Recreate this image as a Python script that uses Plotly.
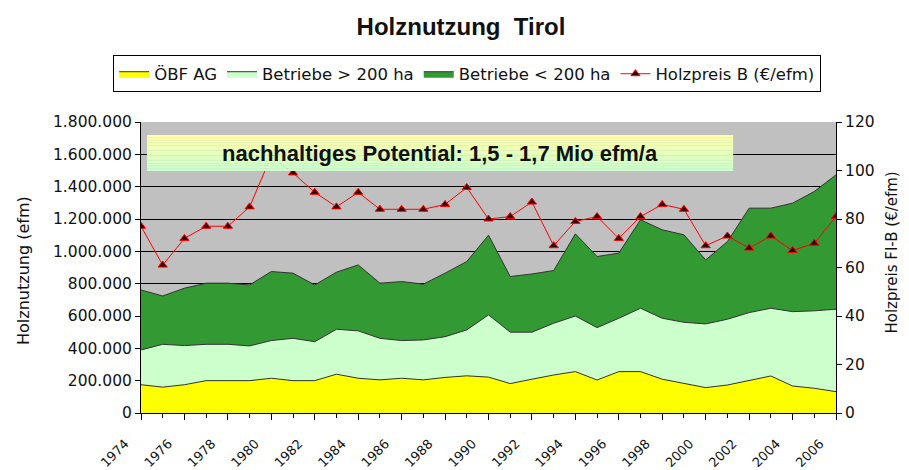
import plotly.graph_objects as go

years = list(range(1974, 2007))
oebf = [175000, 160000, 175000, 200000, 200000, 200000, 215000, 200000, 200000, 240000,
        215000, 205000, 215000, 205000, 220000, 230000, 222000, 182000, 209000, 235000,
        256000, 204000, 256000, 256000, 209000, 184000, 157000, 173000, 200000, 229000,
        167000, 153000, 132000]
gross = [215000, 265000, 242000, 225000, 225000, 215000, 233000, 262000, 241000, 278000,
         293000, 257000, 233000, 247000, 252000, 284000, 385000, 318000, 291000, 320000,
         344000, 324000, 330000, 392000, 377000, 377000, 394000, 407000, 421000, 419000,
         460000, 479000, 510000]
klein = [371000, 299000, 355000, 378000, 378000, 377000, 427000, 403000, 351000, 353000,
         408000, 341000, 365000, 345000, 393000, 423000, 493000, 344000, 360000, 326000,
         508000, 440000, 403000, 547000, 547000, 541000, 396000, 480000, 646000, 619000,
         671000, 738000, 831000]
preis = [77, 61, 72, 77, 77, 85, 106, 99, 91, 85, 91, 84, 84, 84, 86, 93, 80, 81, 87, 69,
         79, 81, 72, 81, 86, 84, 69, 73, 68, 73, 67, 70, 81]
tick_years = list(range(1974, 2007, 2))
series_names = ["ÖBF AG", "Betriebe > 200 ha", "Betriebe < 200 ha", "Holzpreis B (€/efm)"]

ARIAL = "Liberation Sans, Arial, sans-serif"
WIDE = "DejaVu Sans, Verdana, sans-serif"

# the page body has an 8px margin, so the figure is sized to fit the 909x470 window
W, H = 901, 462

fig = go.Figure()
fig.add_trace(go.Scatter(x=years, y=oebf, name=series_names[0], stackgroup="a",
                         mode="lines", line=dict(color="#333333", width=1),
                         fillcolor="#ffff00"))
fig.add_trace(go.Scatter(x=years, y=gross, name=series_names[1], stackgroup="a",
                         mode="lines", line=dict(color="#333333", width=1),
                         fillcolor="#ccffcc"))
fig.add_trace(go.Scatter(x=years, y=klein, name=series_names[2], stackgroup="a",
                         mode="lines", line=dict(color="#333333", width=1),
                         fillcolor="#339933"))
fig.add_trace(go.Scatter(x=years, y=preis, name=series_names[3], yaxis="y2",
                         mode="lines+markers", line=dict(color="#ff0000", width=1),
                         marker=dict(symbol="triangle-up", size=8, color="#300000",
                                     line=dict(color="#ff0000", width=1))))

# gradient text box (pale yellow -> pale green)
x0, x1, y0, y1 = 0.0086, 0.852, 0.832, 0.955
n = 14
top = (255, 255, 168)
bot = (204, 255, 204)
shapes = []
for i in range(n):
    t = i / (n - 1)
    c = tuple(int(round(top[k] + (bot[k] - top[k]) * t)) for k in range(3))
    ya = y1 - (y1 - y0) * i / n
    yb = y1 - (y1 - y0) * (i + 1) / n
    shapes.append(dict(type="rect", xref="paper", yref="paper", x0=x0, x1=x1, y0=yb, y1=ya,
                       fillcolor="rgb(%d,%d,%d)" % c, line=dict(width=0), layer="above"))

fig.update_layout(
    width=W, height=H,
    margin=dict(l=133, r=73, t=114, b=57, autoexpand=False),
    paper_bgcolor="white", plot_bgcolor="#c0c0c0",
    separators=",.",
    font=dict(family=WIDE, size=15, color="#111111"),
    title=dict(text="<b>Holznutzung  Tirol</b>", x=453 / W, xanchor="center",
               y=1 - 19 / H, yanchor="middle",
               font=dict(family=ARIAL, size=24, color="#111111")),
    showlegend=True,
    legend=dict(orientation="h", xref="paper", x=-0.040, xanchor="left",
                yref="paper", y=1.165, yanchor="middle",
                bordercolor="#000000", borderwidth=1, bgcolor="white",
                font=dict(family=WIDE, size=16.5), traceorder="normal", itemwidth=30),
    xaxis=dict(range=[1974, 2006], tickvals=tick_years, ticktext=[str(y) for y in tick_years],
               tickangle=-45, ticks="outside", ticklen=6, tickcolor="#000000",
               ticklabelstandoff=11, ticklabelshift=-16,
               showline=True, linecolor="#000000", linewidth=1, showgrid=False,
               zeroline=False, automargin=False, tickfont=dict(family=WIDE, size=13),
               minor=dict(tickvals=years, ticks="outside", ticklen=4, tickcolor="#000000",
                          showgrid=False)),
    yaxis=dict(range=[0, 1800000], dtick=200000, tickformat=",d", ticks="outside",
               ticklen=5, tickcolor="#000000", showline=True, linecolor="#000000",
               showgrid=True, gridcolor="#000000", gridwidth=1, zeroline=False,
               automargin=False, tickfont=dict(family=WIDE, size=15.5)),
    yaxis2=dict(range=[0, 120], dtick=20, overlaying="y", side="right", ticks="outside",
                ticklen=5, tickcolor="#000000", showline=True, linecolor="#000000",
                showgrid=False, zeroline=False, automargin=False,
                tickfont=dict(family=WIDE, size=15.5)),
    shapes=shapes,
    annotations=[
        dict(text="<b>nachhaltiges Potential: 1,5 - 1,7 Mio efm/a</b>", xref="paper",
             yref="paper", x=0.43, y=0.893, xanchor="center", yanchor="middle",
             showarrow=False, font=dict(family=ARIAL, size=22, color="#111111")),
        dict(text="Holznutzung (efm)", xref="paper", yref="paper", x=-0.170, y=0.491,
             xanchor="center", yanchor="middle", textangle=-90, showarrow=False,
             font=dict(family=WIDE, size=16)),
        dict(text="Holzpreis FI-B (€/efm)", xref="paper", yref="paper", x=1.080, y=0.55,
             xanchor="center", yanchor="middle", textangle=-90, showarrow=False,
             font=dict(family=WIDE, size=15)),
    ],
)

fig.write_html("out.html")
